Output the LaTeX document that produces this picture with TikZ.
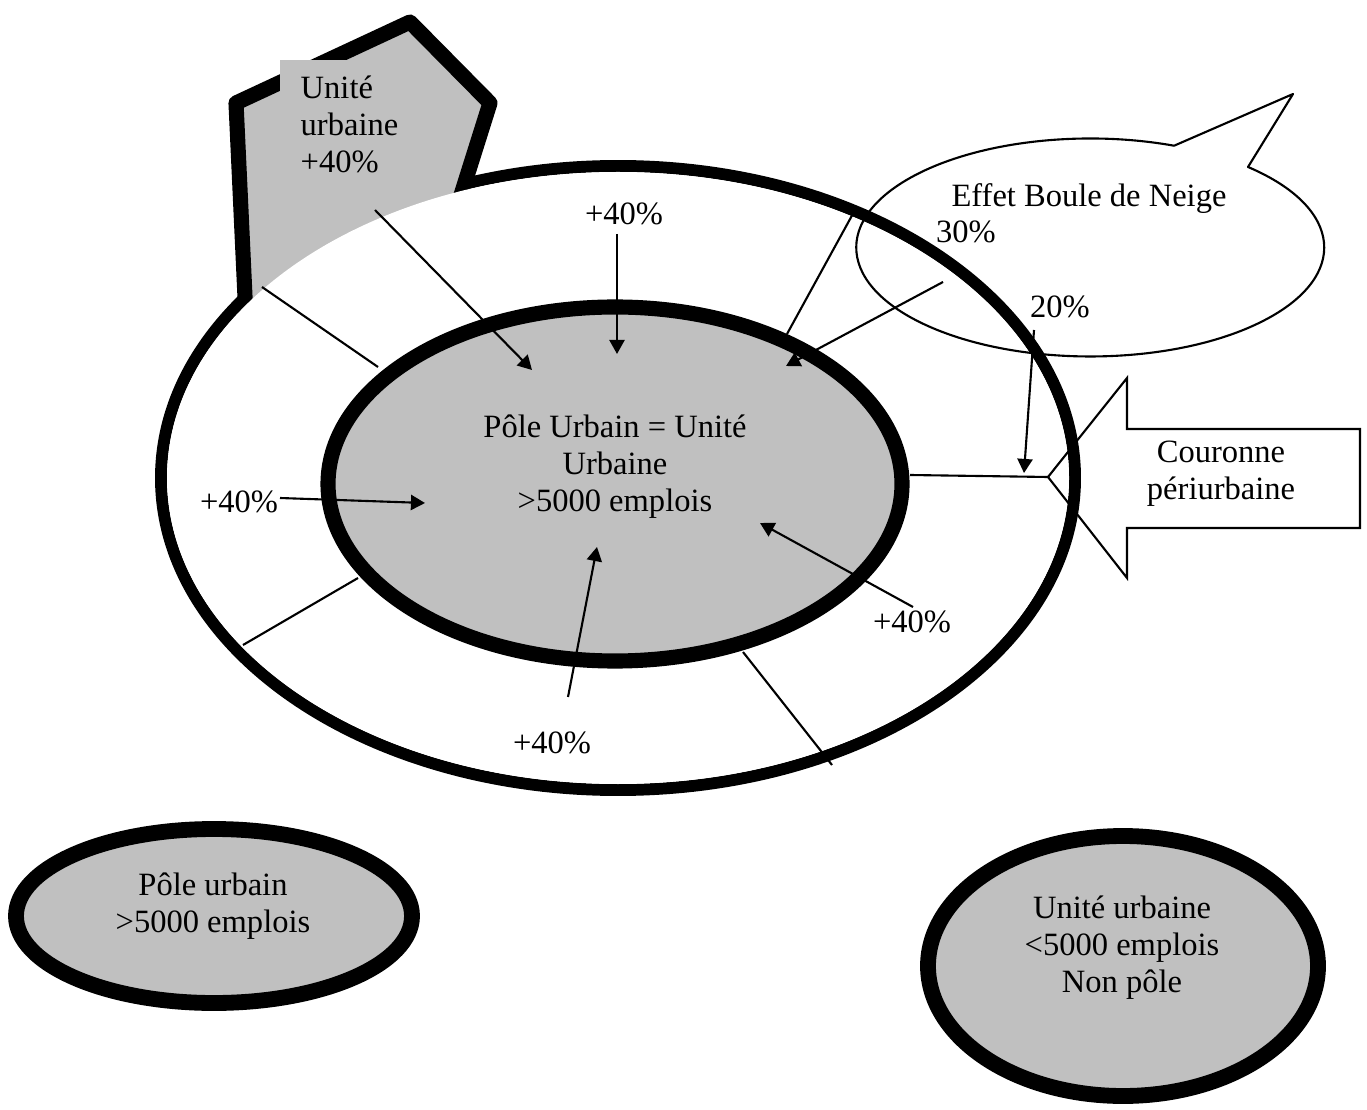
\documentclass[tikz,border=0pt]{standalone}
\usepackage{fontspec}
\setmainfont{Liberation Serif}
\usetikzlibrary{arrows.meta}
\definecolor{silver}{RGB}{192,192,192}

\begin{document}
\begin{tikzpicture}[x=0.01cm, y=-0.01cm, >={Triangle[length=4pt,width=4.3pt]},
    txt/.style={font=\fontsize{9.25}{10.5}\selectfont, inner sep=0pt, align=center},
    fine/.style={line width=0.6pt}]

    \useasboundingbox (0,0) rectangle (1367,1110);

    % Outer ring
    \draw[line width=3.4pt] (618,478) ellipse (457 and 312);

    % Unite urbaine block
    \filldraw[fill=silver, line width=4.3pt, line join=round]
        (247,340) -- (236,103) -- (410,22) -- (490,103) -- (450,230) -- cycle;
    \fill[silver] (280,60) rectangle (380,180);
    \fill[white] (618,478) ellipse (451 and 306);
    \node[txt, align=left, anchor=north west] (uu) at (300,75.5) {Unité\\urbaine\\+40\%};

    % Spokes of the ring
    \foreach \name/\ax/\ay/\bx/\by in {nw/262/287/378/367, sw/243/645/358/578,
        s/743/652/832/765, ne/787/334/855/210} {
        \coordinate (\name-a) at (\ax,\ay);
        \coordinate (\name-b) at (\bx,\by);
        \draw[fine] (\name-a) -- (\name-b);
    }

    % Pole urbain
    \filldraw[fill=silver, line width=4.3pt] (615,484) ellipse (287 and 177);
    \node[txt, anchor=north] (pole) at (615,414.5) {Pôle Urbain = Unité\\Urbaine\\>5000 emplois};

    % Percent labels
    \node[txt, anchor=base] (pn) at (624,225) {+40\%};
    \node[txt, anchor=base] (pw) at (239,513) {+40\%};
    \node[txt, anchor=base] (pse) at (912,633) {+40\%};
    \node[txt, anchor=base] (ps) at (552,753) {+40\%};
    \node[txt, anchor=base] (p30) at (966,243) {30\%};
    \node[txt, anchor=base] (p20) at (1060,318) {20\%};

    % Flows towards the pole
    \foreach \name/\sx/\sy/\tx/\ty in {fuu/375/210/532/370, fn/617/234/617/354,
        fw/280/498/425/503, fs/568/697/597/547, fse/913/607/760/523,
        f30/943/282/786/366, f20/1034/330/1024/473} {
        \coordinate (\name-s) at (\sx,\sy);
        \coordinate (\name-t) at (\tx,\ty);
        \draw[->, fine] (\name-s) -- (\name-t);
    }

    % Effet boule de neige bubble
    \draw[fine, line join=round] (1248,167)
        arc[start angle=-47.6, end angle=291, x radius=234, y radius=109]
        -- (1293,94) -- cycle;
    \node[txt, anchor=base] (effet) at (1089,207) {Effet Boule de Neige};

    % Couronne periurbaine arrow
    \coordinate (cp-tip) at (1048,477);
    \draw[fine] (cp-tip) -- (1127,378) -- (1127,429) -- (1360,429) -- (1360,528)
        -- (1127,528) -- (1127,578) -- cycle;
    \node[txt, anchor=north] (cp) at (1221,440) {Couronne\\périurbaine};
    \coordinate (pole-e) at (910,475);
    \draw[fine] (pole-e) -- (cp-tip);

    % Other units
    \filldraw[fill=silver, line width=4.5pt] (214,916) ellipse (198 and 87);
    \node[txt, anchor=north] (pu) at (213,872.5) {Pôle urbain\\>5000 emplois};
    \filldraw[fill=silver, line width=4.5pt] (1123,966) ellipse (195 and 130);
    \node[txt, anchor=north] (np) at (1122,895.5) {Unité urbaine\\<5000 emplois\\Non pôle};

\end{tikzpicture}
\end{document}
